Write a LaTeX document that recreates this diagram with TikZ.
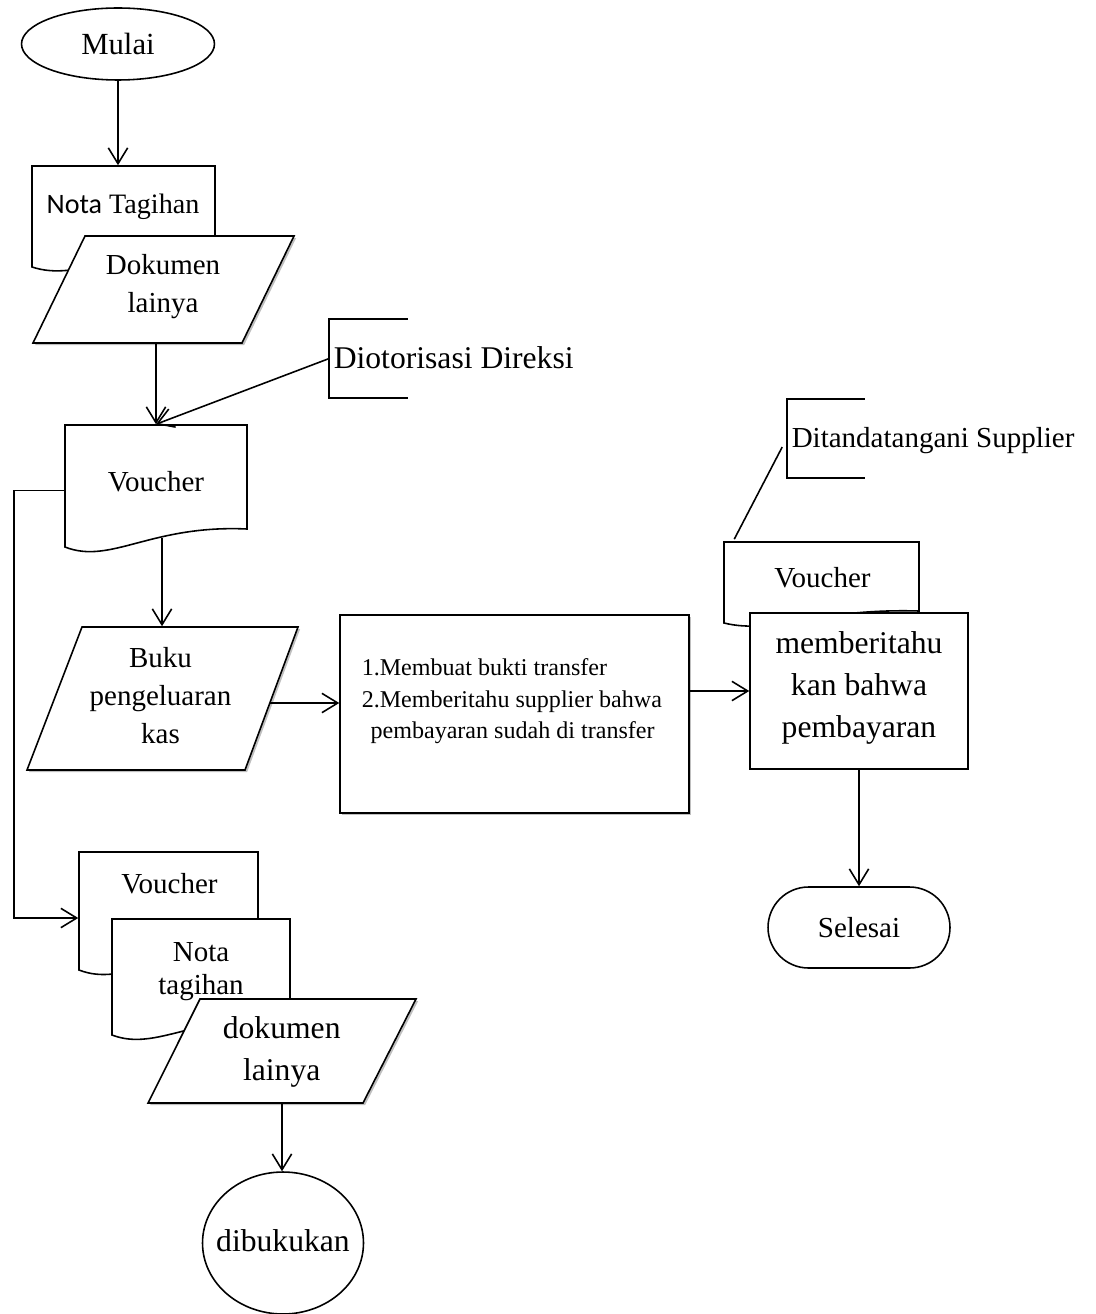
\documentclass[tikz,border=0pt]{standalone}
\usepackage{fontspec}
\setmainfont{Liberation Serif}
\newfontfamily\carlfont{Carlito}
\usetikzlibrary{arrows.meta,shapes.geometric,shapes.misc,shadows,calc}
\newcommand\docshp[5]{\draw[ln] (#2,#5) -- (#2,#3) -- (#1,#3) -- (#1,#4) .. controls ({#1+0.25*(#2-#1)},{#4+(#4-#5)}) and ({#1+0.47*(#2-#1)},{#5-0.25*(#4-#5)}) .. (#2,#5) -- cycle;}
\begin{document}
\begin{tikzpicture}[x=0.02cm,y=-0.02cm,line width=0.9pt,
  arr/.style={-{Straight Barb[length=9pt,width=11pt,line width=0.9pt]}},
  ln/.style={draw=black,fill=white},
  sh/.style={drop shadow={shadow xshift=1.2pt,shadow yshift=-1.2pt,opacity=0.25,fill=black}},
  txt/.style={inner sep=0pt,align=center,font=\fontsize{16.5}{21.5}\selectfont},
  box/.style={draw=none,inner sep=0pt}]
\useasboundingbox (0,0) rectangle (1095,1314);

% Mulai
\node[draw,ellipse,inner sep=0pt,minimum width=3.86cm,minimum height=1.44cm,font=\fontsize{17.5}{21}\selectfont] (mulai) at (118,44) {Mulai};

% Nota Tagihan + Dokumen lainya
\docshp{32}{215}{166}{267}{252}
\node[box,minimum width=3.66cm,minimum height=2.02cm] (notaA) at (123.5,216.5) {};
\node[txt,anchor=north,font=\fontsize{16}{20}\selectfont] (notaAt) at (123,193) {{\carlfont Nota} Tagihan};
\draw[ln,sh] (85,236) -- (294,236) -- (242,343) -- (33,343) -- cycle;
\node[box,minimum width=3.2cm,minimum height=2.14cm] (dokA) at (163.5,289.5) {};
\node[txt,anchor=north] (dokAt) at (163,254) {Dokumen\\lainya};
\draw[arr] (mulai.south) -- (mulai.south |- notaA.north);

% Voucher
\docshp{65}{247}{425}{547}{529}
\node[box,minimum width=3.64cm,minimum height=2.612cm] (voucherA) at (156,490.3) {};
\node[txt,anchor=base] (voucherAt) at (156,491) {Voucher};
\draw[arr] (dokA.south -| voucherA.north) -- (voucherA.north);

% Diotorisasi Direksi
\node[box,minimum width=1.54cm,minimum height=1.54cm] (dir) at (368.5,358.5) {};
\draw (dir.north east) -- (dir.north west) -- (dir.south west) -- (dir.south east);
\node[txt,anchor=base west,font=\fontsize{18}{22}\selectfont] (dirt) at (333,368) {Diotorisasi Direksi};
\draw[arr] (dir.west) -- (voucherA.north);

% Buku pengeluaran kas
\draw[ln,sh] (82,627) -- (298,627) -- (245,770) -- (27,770) -- cycle;
\node[box,minimum width=3.4cm,minimum height=2.86cm] (buku) at (162,698.5) {};
\node[txt,anchor=north] (bukut) at (160.5,647) {Buku\\pengeluaran\\kas};
\coordinate (vAb) at (162,538);
\draw[arr] (vAb) -- (vAb |- buku.north);

% Process box
\node[draw,fill=white,sh,minimum width=6.98cm,minimum height=3.96cm] (proc) at (514.5,714) {};
\node[inner sep=0pt,anchor=north west,align=left,font=\fontsize{13.7}{17.9}\selectfont] (proct) at (361,658)
  {1.Membuat bukti transfer\\2.Memberitahu supplier bahwa\\\hspace*{5pt}pembayaran sudah di transfer};
\coordinate (bukuR) at (270,703);
\draw[arr] (bukuR) -- (bukuR -| proc.west);

% Ditandatangani Supplier
\node[box,minimum width=1.52cm,minimum height=1.54cm] (sup) at (826,438.5) {};
\draw (sup.north east) -- (sup.north west) -- (sup.south west) -- (sup.south east);
\node[txt,anchor=base west] (supt) at (791,447) {Ditandatangani Supplier};

% Voucher (right) + memberitahukan
\docshp{724}{919}{542}{623}{611}
\node[box,minimum width=3.9cm,minimum height=1.62cm] (voucherB) at (821.5,582.5) {};
\node[txt,anchor=base] (voucherBt) at (822.5,587) {Voucher};
\draw ($(sup.west)+(-5,8.5)$) -- ($(voucherB.north west)+(11,-2)$);
\node[draw,fill=white,minimum width=4.36cm,minimum height=3.12cm] (memb) at (859,691) {};
\node[txt,anchor=north,font=\fontsize{18}{23.8}\selectfont] (membt) at (859,631) {memberitahu\\kan bahwa\\pembayaran};
\draw[arr] (proc.east |- memb.west) -- (memb.west);

% Selesai
\node[draw,rounded rectangle,inner sep=0pt,minimum width=3.64cm,minimum height=1.62cm,font=\fontsize{16.5}{20}\selectfont] (selesai) at (859,927.5) {Selesai};
\draw[arr] (memb.south -| selesai.north) -- (selesai.north);

% Bottom stack
\docshp{79}{258}{852}{970}{952.5}
\node[box,minimum width=3.58cm,minimum height=2.64cm] (voucherC) at (168.5,918) {};
\node[txt,anchor=base] (voucherCt) at (169.5,893) {Voucher};
\docshp{112}{290}{919}{1035}{1018}
\node[box,minimum width=3.56cm,minimum height=2.32cm] (notaC) at (201,977) {};
\node[txt,anchor=north,font=\fontsize{16.5}{18.7}\selectfont] (notaCt) at (201,942) {Nota\\tagihan};
\draw[ln,sh] (200,999) -- (416,999) -- (363,1103) -- (148,1103) -- cycle;
\node[box,minimum width=3.2cm,minimum height=2.08cm] (dokC) at (282,1051) {};
\node[txt,anchor=north,font=\fontsize{18}{23.8}\selectfont] (dokCt) at (281.7,1016) {dokumen\\lainya};
\node[draw,ellipse,inner sep=0pt,minimum width=3.22cm,minimum height=2.84cm] (dibuk) at (283,1243) {};
\node[txt,anchor=base,font=\fontsize{18}{22}\selectfont] (dibukt) at (283,1251) {dibukukan};
\draw[arr] (dokC.south) -- (dokC.south |- dibuk.north);

% Feedback line
\draw[arr] (voucherA.west) -- ++(-50,0) |- (voucherC.west);
\end{tikzpicture}
\end{document}
